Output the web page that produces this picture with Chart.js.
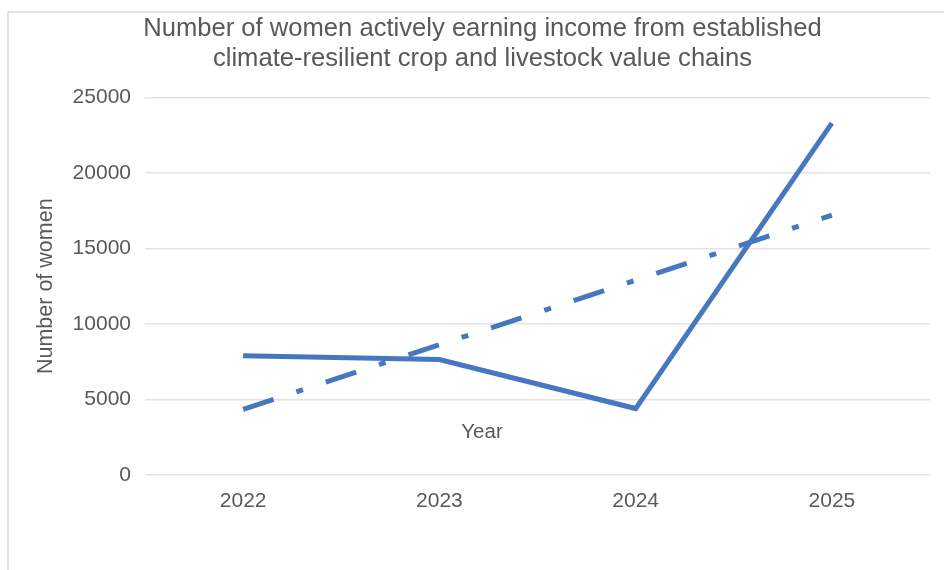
<!DOCTYPE html>
<html>
<head>
<meta charset="utf-8">
<title>Women earning income from value chains</title>
<script src="https://cdn.jsdelivr.net/npm/chart.js@4/dist/chart.umd.min.js"></script>
<style>
  html, body { margin: 0; padding: 0; background: #fff; }
  #myChart { display: block; }
</style>
</head>
<body>
<canvas id="myChart" width="944" height="570"></canvas>
<script>
const years = ['2022', '2023', '2024', '2025']
const womenEarning = [7900, 7650, 4400, 23300]
const trendValues = [4350, 8620, 12900, 17200]
const yTicks = [0, 5000, 10000, 15000, 20000, 25000]

const titleLines = [
    'Number of women actively earning income from established',
    'climate-resilient crop and livestock value chains'
]
const textGrey = '#595959'
const lineBlue = '#4677BF'
const font = "'Liberation Sans', Arial, sans-serif"

// thin grey frame along the top and left edge + the "Year" caption inside the plot
const frameAndCaption = {
    id: 'frameAndCaption',
    beforeDraw(chart) {
        const c = chart.ctx
        c.save()
        c.strokeStyle = '#dcdcdc'
        c.lineWidth = 1.5
        c.beginPath()
        c.moveTo(8, chart.height)
        c.lineTo(8, 12)
        c.lineTo(chart.width, 12)
        c.stroke()
        c.restore()
    },
    afterDraw(chart) {
        const c = chart.ctx
        const area = chart.chartArea
        c.save()
        c.fillStyle = textGrey
        c.font = '20.5px ' + font
        c.textAlign = 'center'
        c.textBaseline = 'middle'
        c.fillText('Year', area.left + 337, area.bottom - 43)
        c.restore()
    }
}

const ctx = document.getElementById('myChart')

const myChart = new Chart(ctx, {
    type: 'line',
    data: {
        labels: years,
        datasets: [{
            label: 'Women earning income',
            data: womenEarning,
            borderColor: lineBlue,
            borderWidth: 5,
            pointRadius: 0,
            tension: 0,
            borderJoinStyle: 'miter'
        }, {
            label: 'Linear trend',
            data: trendValues,
            borderColor: lineBlue,
            borderWidth: 5,
            borderDash: [32, 24, 7, 24],
            borderCapStyle: 'butt',
            pointRadius: 0,
            tension: 0
        }]
    },
    options: {
        responsive: false,
        animation: false,
        layout: { padding: { left: 35, right: 14, top: 0, bottom: 0 } },
        plugins: {
            legend: { display: false },
            tooltip: { enabled: false },
            title: {
                display: true,
                text: titleLines,
                color: textGrey,
                font: { family: font, size: 25.6, weight: 'normal', lineHeight: 1.18 },
                padding: { top: 14, bottom: 23 }
            }
        },
        scales: {
            x: {
                offset: true,
                grid: { display: false, drawTicks: false },
                border: { display: false },
                ticks: {
                    color: textGrey,
                    font: { family: font, size: 21 },
                    padding: 14
                },
                afterFit(scale) { scale.height = 95 }
            },
            y: {
                min: 0,
                max: 25000,
                afterBuildTicks(scale) {
                    scale.ticks = yTicks.map(v => ({ value: v }))
                },
                grid: { color: '#e3e3e3', lineWidth: 1.5, drawTicks: false },
                border: { display: false },
                ticks: {
                    color: textGrey,
                    font: { family: font, size: 21 },
                    padding: 14,
                    callback: v => String(v)
                },
                title: {
                    display: true,
                    text: 'Number of women',
                    color: textGrey,
                    font: { family: font, size: 21.5, lineHeight: 1 },
                    padding: { top: 0, bottom: 0 }
                },
                afterFit(scale) { scale.width = 110 }
            }
        }
    },
    plugins: [frameAndCaption]
})
</script>
</body>
</html>
